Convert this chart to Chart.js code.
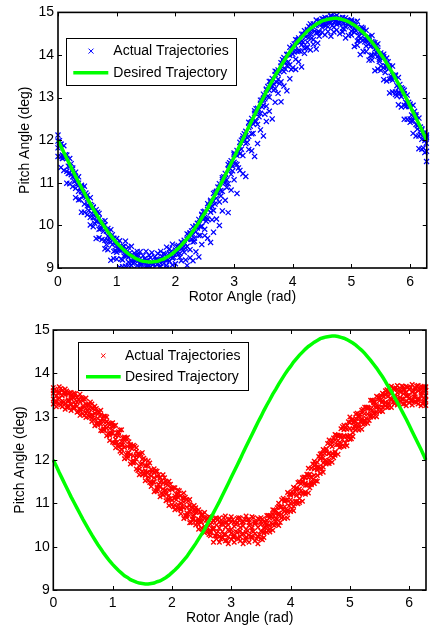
<!DOCTYPE html>
<html>
<head>
<meta charset="utf-8">
<script src="https://cdn.jsdelivr.net/npm/chart.js@4.4.1/dist/chart.umd.min.js"></script>
<style>
  html, body { margin: 0; padding: 0; background: #fff; }
  body { width: 432px; height: 633px; position: relative; overflow: hidden; }
  canvas { position: absolute; left: 0; }
  #c1 { top: 0; }
  #c2 { top: 315px; }
</style>
</head>
<body>
<canvas id="c1" width="432" height="310"></canvas>
<canvas id="c2" width="432" height="318"></canvas>
<script>
// ---------------- data ----------------
const rotorAngle = [
  0.00,0.05,0.10,0.15,0.20,0.25,0.30,0.35,0.40,0.45,
  0.50,0.55,0.60,0.65,0.70,0.75,0.80,0.85,0.90,0.95,
  1.00,1.05,1.10,1.15,1.20,1.25,1.30,1.35,1.40,1.45,
  1.50,1.55,1.60,1.65,1.70,1.75,1.80,1.85,1.90,1.95,
  2.00,2.05,2.10,2.15,2.20,2.25,2.30,2.35,2.40,2.45,
  2.50,2.55,2.60,2.65,2.70,2.75,2.80,2.85,2.90,2.95,
  3.00,3.05,3.10,3.15,3.20,3.25,3.30,3.35,3.40,3.45,
  3.50,3.55,3.60,3.65,3.70,3.75,3.80,3.85,3.90,3.95,
  4.00,4.05,4.10,4.15,4.20,4.25,4.30,4.35,4.40,4.45,
  4.50,4.55,4.60,4.65,4.70,4.75,4.80,4.85,4.90,4.95,
  5.00,5.05,5.10,5.15,5.20,5.25,5.30,5.35,5.40,5.45,
  5.50,5.55,5.60,5.65,5.70,5.75,5.80,5.85,5.90,5.95,
  6.00,6.05,6.10,6.15,6.20,6.25,6.28
];
const rotorAngleMid = [
  0.025,0.075,0.125,0.175,0.225,0.275,0.325,0.375,0.425,0.475,
  0.525,0.575,0.625,0.675,0.725,0.775,0.825,0.875,0.925,0.975,
  1.025,1.075,1.125,1.175,1.225,1.275,1.325,1.375,1.425,1.475,
  1.525,1.575,1.625,1.675,1.725,1.775,1.825,1.875,1.925,1.975,
  2.025,2.075,2.125,2.175,2.225,2.275,2.325,2.375,2.425,2.475,
  2.525,2.575,2.625,2.675,2.725,2.775,2.825,2.875,2.925,2.975,
  3.025,3.075,3.125,3.175,3.225,3.275,3.325,3.375,3.425,3.475,
  3.525,3.575,3.625,3.675,3.725,3.775,3.825,3.875,3.925,3.975,
  4.025,4.075,4.125,4.175,4.225,4.275,4.325,4.375,4.425,4.475,
  4.525,4.575,4.625,4.675,4.725,4.775,4.825,4.875,4.925,4.975,
  5.025,5.075,5.125,5.175,5.225,5.275,5.325,5.375,5.425,5.475,
  5.525,5.575,5.625,5.675,5.725,5.775,5.825,5.875,5.925,5.975,
  6.025,6.075,6.125,6.175,6.225,6.275
];

const desiredPitch = [
  12.00,11.86,11.71,11.57,11.43,11.29,11.15,11.02,10.89,10.76,
  10.63,10.51,10.39,10.27,10.16,10.05,9.95,9.85,9.76,9.67,
  9.59,9.52,9.45,9.39,9.33,9.29,9.24,9.21,9.18,9.16,
  9.15,9.14,9.14,9.15,9.16,9.19,9.21,9.25,9.29,9.34,
  9.40,9.46,9.53,9.61,9.69,9.77,9.87,9.97,10.07,10.18,
  10.29,10.40,10.53,10.65,10.78,10.91,11.04,11.18,11.32,11.46,
  11.60,11.74,11.88,12.02,12.17,12.31,12.45,12.59,12.73,12.87,
  13.00,13.14,13.27,13.39,13.52,13.63,13.75,13.86,13.97,14.07,
  14.16,14.26,14.34,14.42,14.49,14.56,14.62,14.67,14.72,14.76,
  14.80,14.82,14.84,14.85,14.86,14.86,14.85,14.83,14.81,14.78,
  14.74,14.70,14.65,14.59,14.53,14.46,14.38,14.30,14.21,14.12,
  14.02,13.92,13.81,13.69,13.58,13.45,13.33,13.20,13.07,12.94,
  12.80,12.66,12.52,12.38,12.24,12.09,12.00
];

// Top panel: actual trajectories (samples across the blue band)
const topActual1 = [
  12.12,11.91,11.87,11.65,11.57,11.32,11.25,11.14,10.94,10.92,
  10.71,10.65,10.42,10.37,10.28,10.10,10.11,9.93,9.90,9.70,
  9.69,9.64,9.50,9.63,9.49,9.51,9.35,9.39,9.38,9.29,
  9.39,9.30,9.36,9.26,9.34,9.39,9.34,9.49,9.45,9.56,
  9.42,9.53,9.61,9.65,9.80,9.83,9.97,9.99,10.14,10.26,
  10.33,10.51,10.59,10.75,10.80,10.98,11.12,11.22,11.43,11.52,
  11.70,11.76,11.95,12.10,12.21,12.42,12.51,12.69,12.75,12.94,
  13.08,13.18,13.38,13.45,13.62,13.65,13.82,13.94,14.01,14.18,
  14.22,14.36,14.36,14.49,14.57,14.60,14.73,14.73,14.82,14.78,
  14.85,14.88,14.87,14.93,14.90,14.93,14.87,14.88,14.87,14.81,
  14.82,14.78,14.79,14.62,14.63,14.58,14.43,14.46,14.29,14.26,
  14.05,14.02,13.93,13.74,13.74,13.53,13.47,13.23,13.17,13.06,
  12.85,12.82,12.60,12.52,12.27,12.19,12.12
];
const topActual2 = [
  11.98,11.90,11.63,11.57,11.38,11.35,11.05,10.99,10.91,10.69,
  10.62,10.49,10.43,10.19,10.16,10.00,10.01,9.75,9.73,9.69,
  9.52,9.51,9.43,9.43,9.25,9.29,9.19,9.27,9.08,9.13,
  9.17,9.07,9.13,9.13,9.20,9.11,9.21,9.20,9.35,9.24,
  9.37,9.48,9.46,9.60,9.67,9.81,9.79,9.97,10.02,10.24,
  10.19,10.37,10.55,10.58,10.77,10.89,11.08,11.10,11.32,11.41,
  11.66,11.64,11.85,12.04,12.10,12.30,12.43,12.63,12.65,12.87,
  12.95,13.20,13.17,13.36,13.54,13.56,13.74,13.84,14.01,13.99,
  14.16,14.21,14.40,14.32,14.46,14.58,14.55,14.66,14.70,14.80,
  14.72,14.82,14.79,14.91,14.76,14.83,14.87,14.76,14.80,14.76,
  14.78,14.62,14.65,14.54,14.59,14.36,14.35,14.32,14.14,14.11,
  14.00,13.96,13.73,13.69,13.53,13.51,13.23,13.17,13.09,12.87,
  12.79,12.64,12.56,12.30,12.24,12.04,12.06
];
const topActual3 = [
  11.82,11.61,11.59,11.27,11.23,11.14,10.87,10.80,10.79,10.50,
  10.46,10.19,10.18,10.09,9.91,9.93,9.65,9.65,9.61,9.39,
  9.37,9.42,9.19,9.29,9.14,9.16,9.13,9.06,9.11,8.98,
  9.03,9.05,8.97,9.02,9.10,9.03,9.11,9.06,9.16,9.23,
  9.10,9.32,9.17,9.37,9.51,9.43,9.61,9.85,9.76,9.98,
  9.91,10.15,10.31,10.35,10.64,10.55,10.80,11.00,10.98,11.20,
  11.48,11.43,11.68,11.64,11.92,12.09,12.15,12.45,12.37,12.63,
  12.82,12.80,13.01,13.27,13.21,13.43,13.37,13.61,13.75,13.77,
  14.02,13.90,14.10,14.24,14.15,14.30,14.50,14.36,14.52,14.54,
  14.65,14.69,14.66,14.77,14.65,14.72,14.74,14.63,14.66,14.71,
  14.56,14.53,14.33,14.38,14.35,14.21,14.26,14.00,14.01,13.97,
  13.74,13.70,13.71,13.43,13.41,13.13,13.12,13.02,12.82,12.82,
  12.50,12.46,12.37,12.10,12.02,11.99,11.74
];
const topActual4 = [
  11.62,11.36,11.29,10.99,10.98,10.91,10.65,10.60,10.31,10.31,
  10.25,10.01,9.97,9.69,9.71,9.67,9.45,9.43,9.18,9.22,
  9.21,9.02,9.03,9.04,9.06,9.06,8.94,8.96,8.83,8.89,
  8.92,8.84,8.89,8.80,8.89,8.96,8.91,9.00,8.94,9.07,
  8.87,8.76,8.94,8.80,9.06,9.24,9.17,9.38,9.26,9.55,
  9.76,9.70,9.60,9.84,10.15,10.00,10.34,10.59,10.30,10.83,
  11.07,10.75,11.29,11.21,11.15,11.78,11.75,11.62,11.92,12.24,
  12.10,12.44,12.68,12.50,12.89,13.10,12.90,13.27,13.16,13.44,
  13.70,13.66,13.84,13.72,14.04,14.18,14.12,14.25,14.14,14.44,
  14.53,14.47,14.55,14.44,14.54,14.59,14.50,14.54,14.40,14.46,
  14.47,14.20,14.23,14.01,14.08,14.08,13.88,13.88,13.63,13.67,
  13.64,13.42,13.39,13.11,13.13,13.07,12.83,12.78,12.49,12.49,
  12.42,12.16,12.10,11.80,11.79,11.71,11.50
];
const topActual5 = [
  11.85,11.65,11.60,11.39,11.19,11.16,10.97,10.88,10.69,10.66,
  10.46,10.28,10.27,10.10,10.03,9.86,9.86,9.70,9.55,9.57,
  9.44,9.41,9.28,9.39,9.29,9.22,9.24,9.18,9.17,9.13,
  9.18,9.12,9.10,9.17,9.16,9.20,9.20,9.30,9.30,9.32,
  9.35,9.34,9.47,9.47,9.68,9.68,9.70,9.94,9.97,10.14,
  10.17,10.42,10.45,10.50,10.77,10.82,11.01,11.07,11.34,11.39,
  11.45,11.73,11.79,12.00,12.06,12.33,12.38,12.44,12.72,12.78,
  12.97,13.03,13.28,13.32,13.36,13.61,13.65,13.82,13.84,14.07,
  14.07,14.08,14.30,14.30,14.43,14.41,14.60,14.56,14.52,14.74,
  14.74,14.78,14.77,14.84,14.79,14.76,14.80,14.75,14.75,14.68,
  14.70,14.57,14.45,14.50,14.38,14.34,14.20,14.22,14.06,13.90,
  13.91,13.75,13.67,13.50,13.48,13.28,13.10,13.08,12.89,12.79,
  12.59,12.55,12.34,12.14,12.11,11.93
];
const topActual6 = [
  11.99,11.57,11.66,11.22,11.45,11.03,11.09,10.61,10.87,10.76,
  10.35,10.47,10.05,10.31,9.92,10.00,9.55,9.85,9.78,9.41,
  9.58,9.21,9.51,9.30,9.36,9.11,9.30,9.29,9.09,9.22,
  9.03,9.24,9.09,9.21,9.02,9.27,9.32,9.19,9.38,9.25,
  9.51,9.25,9.57,9.19,9.78,9.87,9.63,10.05,9.77,10.32,
  10.10,10.47,10.13,10.77,10.90,10.69,11.14,10.89,11.47,11.28,
  11.67,11.35,12.00,12.15,11.95,12.41,12.16,12.74,12.55,12.94,
  12.61,13.26,13.38,13.17,13.61,13.33,13.89,13.67,14.02,13.66,
  14.26,14.35,14.09,14.49,14.17,14.67,14.40,14.70,14.28,14.80,
  14.84,14.70,14.86,14.69,14.90,14.75,14.84,14.61,14.82,14.79,
  14.59,14.70,14.34,14.65,14.31,14.42,13.99,14.30,14.23,13.85,
  13.99,13.59,13.84,13.45,13.52,13.04,13.31,13.20,12.79,12.89,
  12.45,12.68,12.26,12.31,11.82,12.09
];

// Bottom panel: actual trajectories (samples across the red band)
const botActual1 = [
  13.67,13.60,13.69,13.61,13.64,13.52,13.56,13.54,13.45,13.52,
  13.42,13.43,13.28,13.29,13.24,13.12,13.15,13.01,12.99,12.82,
  12.86,12.80,12.65,12.70,12.53,12.52,12.33,12.34,12.28,12.13,
  12.17,12.00,11.98,11.78,11.80,11.74,11.60,11.66,11.51,11.51,
  11.33,11.36,11.31,11.18,11.24,11.09,11.09,10.89,10.90,10.85,
  10.74,10.79,10.67,10.68,10.59,10.66,10.66,10.58,10.71,10.62,
  10.69,10.56,10.65,10.66,10.58,10.71,10.62,10.69,10.56,10.65,
  10.67,10.58,10.72,10.72,10.85,10.82,11.00,11.08,11.07,11.25,
  11.23,11.37,11.33,11.50,11.59,11.60,11.81,11.81,11.97,11.95,
  12.14,12.24,12.26,12.46,12.45,12.59,12.55,12.72,12.80,12.80,
  12.99,12.94,13.06,13.02,13.15,13.22,13.22,13.38,13.37,13.47,
  13.42,13.54,13.60,13.57,13.70,13.65,13.72,13.62,13.69,13.70,
  13.64,13.74,13.67,13.72,13.70,13.69,13.69
];
const botActual2 = [
  13.54,13.48,13.55,13.48,13.50,13.39,13.42,13.45,13.34,13.34,
  13.25,13.28,13.18,13.20,13.08,13.06,12.90,12.89,12.88,12.73,
  12.70,12.56,12.56,12.43,12.45,12.31,12.29,12.10,12.10,12.09,
  11.92,11.87,11.72,11.72,11.59,11.62,11.48,11.47,11.30,11.31,
  11.32,11.17,11.14,11.01,11.03,10.91,10.95,10.81,10.79,10.64,
  10.65,10.66,10.53,10.52,10.43,10.50,10.43,10.53,10.45,10.50,
  10.39,10.47,10.54,10.44,10.48,10.40,10.49,10.43,10.53,10.45,
  10.51,10.43,10.53,10.66,10.66,10.76,10.77,10.92,10.92,11.08,
  11.08,11.21,11.18,11.33,11.48,11.47,11.59,11.61,11.79,11.83,
  12.03,12.05,12.19,12.16,12.31,12.46,12.45,12.56,12.56,12.71,
  12.72,12.87,12.88,12.98,12.95,13.07,13.19,13.17,13.26,13.25,
  13.37,13.37,13.50,13.47,13.54,13.47,13.55,13.57,13.53,13.56,
  13.50,13.57,13.52,13.60,13.54,13.58,13.48
];
const botActual3 = [
  13.41,13.36,13.43,13.36,13.30,13.36,13.28,13.33,13.24,13.17,
  13.20,13.18,13.08,13.04,12.94,12.96,12.83,12.72,12.73,12.61,
  12.62,12.48,12.35,12.35,12.29,12.16,12.12,11.99,12.02,11.86,
  11.74,11.75,11.61,11.63,11.49,11.37,11.37,11.33,11.21,11.18,
  11.07,11.11,10.97,10.87,10.90,10.78,10.82,10.70,10.60,10.60,
  10.57,10.47,10.44,10.36,10.40,10.31,10.24,10.35,10.28,10.39,
  10.31,10.26,10.33,10.36,10.30,10.32,10.27,10.37,10.30,10.24,
  10.36,10.35,10.47,10.48,10.52,10.65,10.73,10.74,10.83,10.84,
  11.01,11.01,11.05,11.22,11.24,11.42,11.44,11.48,11.65,11.77,
  11.81,11.93,11.97,12.15,12.15,12.19,12.36,12.38,12.55,12.55,
  12.57,12.72,12.81,12.82,12.90,12.92,13.06,13.06,13.08,13.21,
  13.21,13.34,13.33,13.32,13.41,13.45,13.42,13.44,13.40,13.48,
  13.42,13.38,13.46,13.41,13.49,13.43,13.38
];
const botActual4 = [
  13.29,13.23,13.30,13.23,13.17,13.22,13.14,13.19,13.10,13.03,
  13.07,12.98,13.01,12.89,12.79,12.80,12.68,12.69,12.56,12.45,
  12.41,12.28,12.30,12.16,12.03,12.04,11.91,11.93,11.79,11.66,
  11.66,11.52,11.54,11.39,11.27,11.28,11.15,11.19,11.06,10.95,
  10.97,10.85,10.89,10.76,10.65,10.67,10.55,10.62,10.50,10.40,
  10.42,10.32,10.35,10.25,10.10,10.18,10.10,10.20,10.13,10.07,
  10.17,10.10,10.20,10.13,10.07,10.17,10.10,10.20,10.13,10.07,
  10.18,10.21,10.33,10.34,10.38,10.52,10.49,10.66,10.65,10.66,
  10.81,10.83,11.01,11.02,11.05,11.21,11.24,11.43,11.46,11.51,
  11.69,11.72,11.91,11.92,11.95,12.11,12.13,12.31,12.31,12.33,
  12.48,12.54,12.69,12.69,12.71,12.84,12.85,12.99,12.99,13.00,
  13.12,13.12,13.25,13.22,13.21,13.30,13.27,13.35,13.29,13.25,
  13.32,13.27,13.35,13.29,13.25,13.32,13.26
];
const botActual5 = [
  13.60,13.32,13.57,13.31,13.55,13.26,13.49,13.21,13.44,13.14,
  13.37,13.08,13.29,12.96,13.16,12.85,13.04,12.70,12.89,12.57,
  12.79,12.39,12.62,12.25,12.49,12.09,12.36,11.95,12.20,11.79,
  12.02,11.64,11.88,11.47,11.71,11.34,11.59,11.20,11.45,11.09,
  11.35,10.96,11.21,10.85,11.11,10.72,10.97,10.64,10.84,10.51,
  10.72,10.42,10.63,10.32,10.61,10.24,10.57,10.22,10.56,10.23,
  10.57,10.22,10.56,10.23,10.57,10.22,10.56,10.23,10.57,10.22,
  10.57,10.31,10.61,10.41,10.75,10.57,10.93,10.67,11.04,10.80,
  11.19,10.94,11.36,11.11,11.51,11.26,11.66,11.45,11.87,11.64,
  12.05,11.84,12.25,12.00,12.39,12.17,12.57,12.32,12.70,12.47,
  12.86,12.63,12.96,12.77,13.09,12.88,13.20,13.01,13.33,13.11,
  13.45,13.22,13.53,13.29,13.58,13.35,13.63,13.36,13.62,13.37,
  13.63,13.36,13.62,13.37,13.63,13.36,13.61
];
const botActual6 = [
  13.63,13.54,13.65,13.55,13.59,13.55,13.44,13.53,13.41,13.44,
  13.40,13.27,13.34,13.19,13.19,13.11,12.96,13.01,12.85,12.84,
  12.79,12.63,12.69,12.51,12.51,12.42,12.26,12.32,12.14,12.14,
  12.04,11.87,11.93,11.74,11.75,11.66,11.51,11.59,11.42,11.44,
  11.36,11.21,11.29,11.12,11.14,11.06,10.91,10.95,10.80,10.80,
  10.74,10.61,10.69,10.56,10.65,10.62,10.52,10.67,10.56,10.63,
  10.62,10.52,10.67,10.56,10.63,10.62,10.52,10.67,10.56,10.63,
  10.64,10.55,10.72,10.71,10.84,10.90,10.91,11.12,11.07,11.21,
  11.27,11.26,11.48,11.45,11.61,11.67,11.67,11.91,11.90,12.08,
  12.15,12.15,12.38,12.35,12.51,12.57,12.56,12.77,12.73,12.88,
  12.93,12.89,13.08,13.05,13.17,13.22,13.20,13.38,13.34,13.45,
  13.49,13.46,13.62,13.56,13.65,13.66,13.59,13.71,13.62,13.68,
  13.67,13.59,13.71,13.62,13.68,13.67
];
const botActual7 = [
  13.33,13.41,13.27,13.34,13.21,13.36,13.22,13.28,13.12,13.17,
  13.03,13.16,13.00,13.03,12.84,12.85,12.67,12.78,12.60,12.62,
  12.39,12.41,12.20,12.35,12.13,12.17,11.95,11.96,11.76,11.90,
  11.68,11.71,11.48,11.49,11.29,11.44,11.24,11.29,11.08,11.11,
  10.92,11.08,10.88,10.93,10.72,10.75,10.56,10.72,10.55,10.58,
  10.40,10.43,10.28,10.42,10.25,10.35,10.18,10.28,10.14,10.37,
  10.23,10.35,10.18,10.28,10.14,10.37,10.23,10.35,10.18,10.28,
  10.16,10.44,10.38,10.55,10.49,10.64,10.56,10.85,10.77,10.94,
  10.87,11.04,10.99,11.29,11.23,11.42,11.36,11.55,11.52,11.84,
  11.79,11.99,11.93,12.10,12.05,12.35,12.29,12.47,12.39,12.55,
  12.49,12.78,12.74,12.89,12.82,12.96,12.91,13.15,13.09,13.23,
  13.15,13.28,13.21,13.42,13.34,13.45,13.33,13.41,13.30,13.48,
  13.37,13.46,13.33,13.41,13.30,13.48
];

const xTickValues = [0, 1, 2, 3, 4, 5, 6];
const yTickValues = [9, 10, 11, 12, 13, 14, 15];
const xAxisTitle = 'Rotor Angle (rad)';
const yAxisTitle = 'Pitch Angle (deg)';
const legendLabels = ['Actual Trajectories', 'Desired Trajectory'];

// ---------------- drawing ----------------
const FONT = "'Liberation Sans', Arial, Helvetica, sans-serif";
Chart.defaults.font.family = FONT;
Chart.defaults.color = '#000';

const toPoints = (xs, ys) => xs.map((x, i) => ({ x: x, y: ys[i] }));

const framePlugin = {
  id: 'frame',
  afterDraw(chart, args, opts) {
    const { ctx, chartArea: a, scales } = chart;
    const xs = scales.x, ys = scales.y;
    ctx.save();
    ctx.strokeStyle = '#000';
    ctx.lineWidth = 1.6;
    ctx.strokeRect(a.left, a.top, a.right - a.left, a.bottom - a.top);
    ctx.lineWidth = 1;
    const tl = 4;
    ctx.beginPath();
    xTickValues.forEach(v => {
      const p = Math.round(xs.getPixelForValue(v)) + 0.5;
      ctx.moveTo(p, a.bottom); ctx.lineTo(p, a.bottom - tl);
      ctx.moveTo(p, a.top); ctx.lineTo(p, a.top + tl);
    });
    yTickValues.forEach(v => {
      const p = Math.round(ys.getPixelForValue(v)) + 0.5;
      ctx.moveTo(a.left, p); ctx.lineTo(a.left + tl, p);
      ctx.moveTo(a.right, p); ctx.lineTo(a.right - tl, p);
    });
    ctx.stroke();

    // legend box
    const lx = a.left + opts.dx, ly = a.top + opts.dy, lw = 170, lh = opts.h;
    ctx.fillStyle = '#fff';
    ctx.fillRect(lx, ly, lw, lh);
    ctx.lineWidth = 1;
    ctx.strokeStyle = '#000';
    ctx.strokeRect(Math.round(lx) + 0.5, Math.round(ly) + 0.5, lw, lh);
    const r1 = ly + opts.row1, r2 = ly + opts.row2;
    const mx = lx + opts.mx, mr = opts.mr;
    ctx.strokeStyle = opts.color;
    ctx.beginPath();
    ctx.moveTo(mx - mr, r1 - mr); ctx.lineTo(mx + mr, r1 + mr);
    ctx.moveTo(mx - mr, r1 + mr); ctx.lineTo(mx + mr, r1 - mr);
    ctx.stroke();
    ctx.strokeStyle = '#00ff00';
    ctx.lineWidth = 3.5;
    ctx.beginPath();
    ctx.moveTo(lx + opts.l0, r2); ctx.lineTo(lx + opts.l1, r2);
    ctx.stroke();
    ctx.fillStyle = '#000';
    ctx.font = '14px ' + FONT;
    ctx.textBaseline = 'middle';
    ctx.textAlign = 'left';
    ctx.fillText(legendLabels[0], lx + 47, r1);
    ctx.fillText(legendLabels[1], lx + 47, r2);
    ctx.restore();
  }
};

function makeChart(id, actualSets, color, radius, bw, lay, legendOpts) {
  const actual = [];
  actualSets.forEach(s => actual.push(...toPoints(s[0], s[1])));
  return new Chart(document.getElementById(id), {
    type: 'scatter',
    data: {
      datasets: [
        {
          label: legendLabels[1],
          data: toPoints(rotorAngle, desiredPitch),
          showLine: true,
          borderColor: '#00ff00',
          borderWidth: 3.5,
          pointRadius: 0,
          fill: false,
          order: 0,
          clip: 2
        },
        {
          label: legendLabels[0],
          data: actual,
          showLine: false,
          pointStyle: 'crossRot',
          pointRadius: radius,
          pointBorderWidth: bw,
          borderColor: color,
          backgroundColor: color,
          order: 1,
          clip: { left: 3, right: 3, top: 0, bottom: 0 }
        }
      ]
    },
    options: {
      responsive: false,
      animation: false,
      events: [],
      layout: { padding: lay.padding },
      plugins: {
        legend: { display: false },
        tooltip: { enabled: false },
        frame: legendOpts
      },
      scales: {
        x: {
          type: 'linear',
          min: 0,
          max: 6.2832,
          afterFit: s => { s.height = lay.xh; },
          afterBuildTicks: s => { s.ticks = xTickValues.map(v => ({ value: v })); },
          grid: { display: false, drawTicks: false },
          border: { display: false },
          ticks: { padding: lay.xpad, color: '#000', font: { size: 14 }, maxRotation: 0, autoSkip: false },
          title: { display: true, text: xAxisTitle, color: '#000', font: { size: 14 }, padding: { top: 0, bottom: lay.xtb } }
        },
        y: {
          type: 'linear',
          min: 9,
          max: 15,
          afterFit: s => { s.width = lay.yw; },
          afterBuildTicks: s => { s.ticks = yTickValues.map(v => ({ value: v })); },
          grid: { display: false, drawTicks: false },
          border: { display: false },
          ticks: { padding: lay.ypad, color: '#000', font: { size: 14 }, autoSkip: false },
          title: { display: true, text: yAxisTitle, color: '#000', font: { size: 14 }, padding: { top: lay.ytt, bottom: 0 } }
        }
      }
    },
    plugins: [framePlugin]
  });
}

makeChart('c1',
  [[rotorAngle, topActual1], [rotorAngle, topActual2], [rotorAngle, topActual3], [rotorAngle, topActual4],
   [rotorAngleMid, topActual5], [rotorAngleMid, topActual6]],
  '#0000ff', 3.6, 1.25,
  { padding: { top: 8, right: 2, bottom: 0, left: 0 }, xh: 42, yw: 58, xpad: 6, ypad: 4, xtb: 4, ytt: 16.6 },
  { dx: 8.3, dy: 26, h: 47, row1: 12.7, row2: 34.3, mx: 24.7, mr: 2.5, l0: 7, l1: 42, color: '#0000ff' });

makeChart('c2',
  [[rotorAngle, botActual1], [rotorAngle, botActual2], [rotorAngle, botActual3], [rotorAngle, botActual4],
   [rotorAngle, botActual5], [rotorAngleMid, botActual6], [rotorAngleMid, botActual7]],
  '#ff0000', 3.2, 1.4,
  { padding: { top: 15, right: 6, bottom: 0, left: 0 }, xh: 43, yw: 53.3, xpad: 5, ypad: 3.5, xtb: 6.5, ytt: 11.6 },
  { dx: 24.7, dy: 12, h: 48, row1: 13.7, row2: 34.7, mx: 25.3, mr: 2.2, l0: 8, l1: 42.7, color: '#ff0000' });
</script>
</body>
</html>
